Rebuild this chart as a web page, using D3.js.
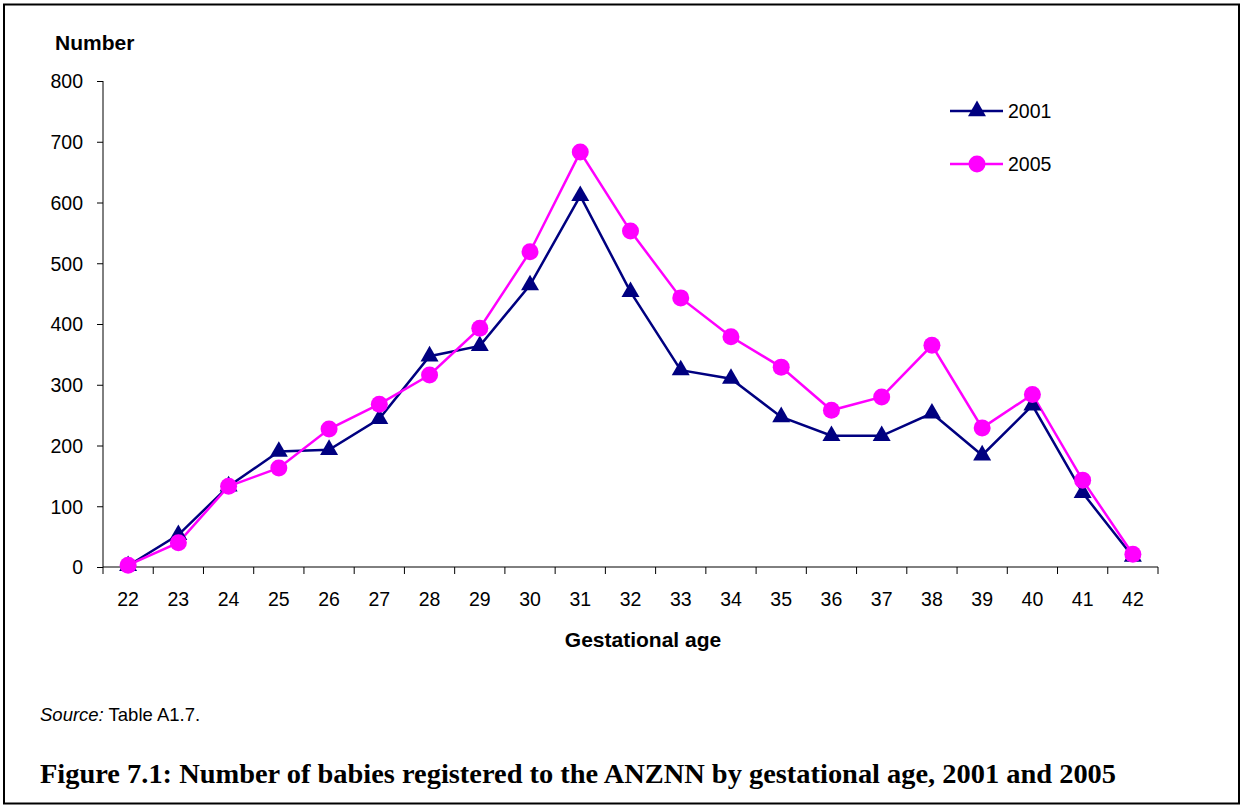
<!DOCTYPE html>
<html><head><meta charset="utf-8">
<script src="https://cdn.jsdelivr.net/npm/d3@7"></script>
<style>body{margin:0;background:#fff;} svg{display:block;}</style>
</head><body>
<svg id="c" width="1242" height="805"></svg>
<script>
const categories = ["22","23","24","25","26","27","28","29","30","31","32","33","34","35","36","37","38","39","40","41","42"];
const values2001 = [2,53,133,190,193,244,347,364,464,611,453,324,310,247,216,216,253,184,266,122,17];
const values2005 = [3,40,133,163,227,268,316,393,519,683,553,443,379,329,258,280,365,229,284,143,21];
const yTicks = [0,100,200,300,400,500,600,700,800];
const seriesNames = ["2001","2005"];

const svg = d3.select("#c");
svg.append("rect").attr("x",4).attr("y",4.5).attr("width",1235).attr("height",799)
  .attr("fill","#fff").attr("stroke","#000").attr("stroke-width",2);

const x = d3.scaleBand().domain(categories).range([103,1158]);
const y = d3.scaleLinear().domain([0,800]).range([567,81]);
const font = "'Liberation Sans', Arial, sans-serif";

// Y axis
const ya = svg.append("g").attr("transform","translate(103,0)")
  .call(d3.axisLeft(y).tickValues(yTicks).tickSize(6).tickPadding(14).tickFormat(d3.format("d")));
ya.select(".domain").attr("d","M0,81V567").attr("stroke","#000");
ya.selectAll(".tick line").attr("stroke","#000");
ya.selectAll("text").attr("font-family",font).attr("font-size",19.5).attr("fill","#000").attr("dy","0.35em");

// X axis
const xa = svg.append("g").attr("transform","translate(0,567)")
  .call(d3.axisBottom(x).tickSize(0).tickPadding(0));
xa.select(".domain").attr("d","M103,0H1158").attr("stroke","#000");
xa.selectAll("text").attr("font-family",font).attr("font-size",19.5).attr("fill","#000").attr("y",39).attr("dy",0);
const bounds = categories.map(c=>x(c)).concat([x(categories[categories.length-1])+x.bandwidth()]);
svg.append("g").selectAll("line").data(bounds).join("line")
  .attr("x1",d=>d).attr("x2",d=>d).attr("y1",567).attr("y2",574).attr("stroke","#000");

// Titles
svg.append("text").attr("x",55).attr("y",50).attr("font-family",font).attr("font-weight","bold")
  .attr("font-size",21).text("Number");
svg.append("text").attr("x",643).attr("y",647).attr("text-anchor","middle").attr("font-family",font)
  .attr("font-weight","bold").attr("font-size",21).text("Gestational age");

const cx = d => x(d)+x.bandwidth()/2;
const line = d3.line().x((d,i)=>cx(categories[i])).y(d=>y(d));
const colors = ["#000080","#FF00FF"];

svg.append("path").datum(values2001).attr("d",line).attr("fill","none").attr("stroke",colors[0]).attr("stroke-width",2.5);
svg.append("path").datum(values2005).attr("d",line).attr("fill","none").attr("stroke",colors[1]).attr("stroke-width",2.5);

const tri = d3.symbol().type(d3.symbolTriangle).size(140);
svg.append("g").selectAll("path").data(values2001).join("path")
  .attr("d",tri).attr("transform",(d,i)=>`translate(${cx(categories[i])},${y(d)})`).attr("fill",colors[0]);
svg.append("g").selectAll("circle").data(values2005).join("circle")
  .attr("cx",(d,i)=>cx(categories[i])).attr("cy",d=>y(d)).attr("r",8.5).attr("fill",colors[1]);

// Legend
const lg = svg.append("g");
[0,1].forEach(i=>{
  const ly = 111 + i*53;
  lg.append("line").attr("x1",950).attr("x2",1003).attr("y1",ly).attr("y2",ly).attr("stroke",colors[i]).attr("stroke-width",2.5);
  if(i===0) lg.append("path").attr("d",tri).attr("transform",`translate(977,${ly})`).attr("fill",colors[0]);
  else lg.append("circle").attr("cx",977).attr("cy",ly).attr("r",8.5).attr("fill",colors[1]);
  lg.append("text").attr("x",1008).attr("y",ly+7).attr("font-family",font).attr("font-size",19.5).text(seriesNames[i]);
});

// Source
const src = svg.append("text").attr("x",40).attr("y",721).attr("font-family",font).attr("font-size",18.5);
src.append("tspan").attr("font-style","italic").text("Source:");
src.append("tspan").text(" Table A1.7.");

// Caption
const cap = svg.append("text").attr("x",40).attr("y",783).attr("font-family","'Liberation Serif', 'Times New Roman', serif")
  .attr("font-weight","bold").attr("font-size",27)
  .text("Figure 7.1: Number of babies registered to the ANZNN by gestational age, 2001 and 2005");
cap.attr("textLength",1076).attr("lengthAdjust","spacingAndGlyphs");
</script>
</body></html>
